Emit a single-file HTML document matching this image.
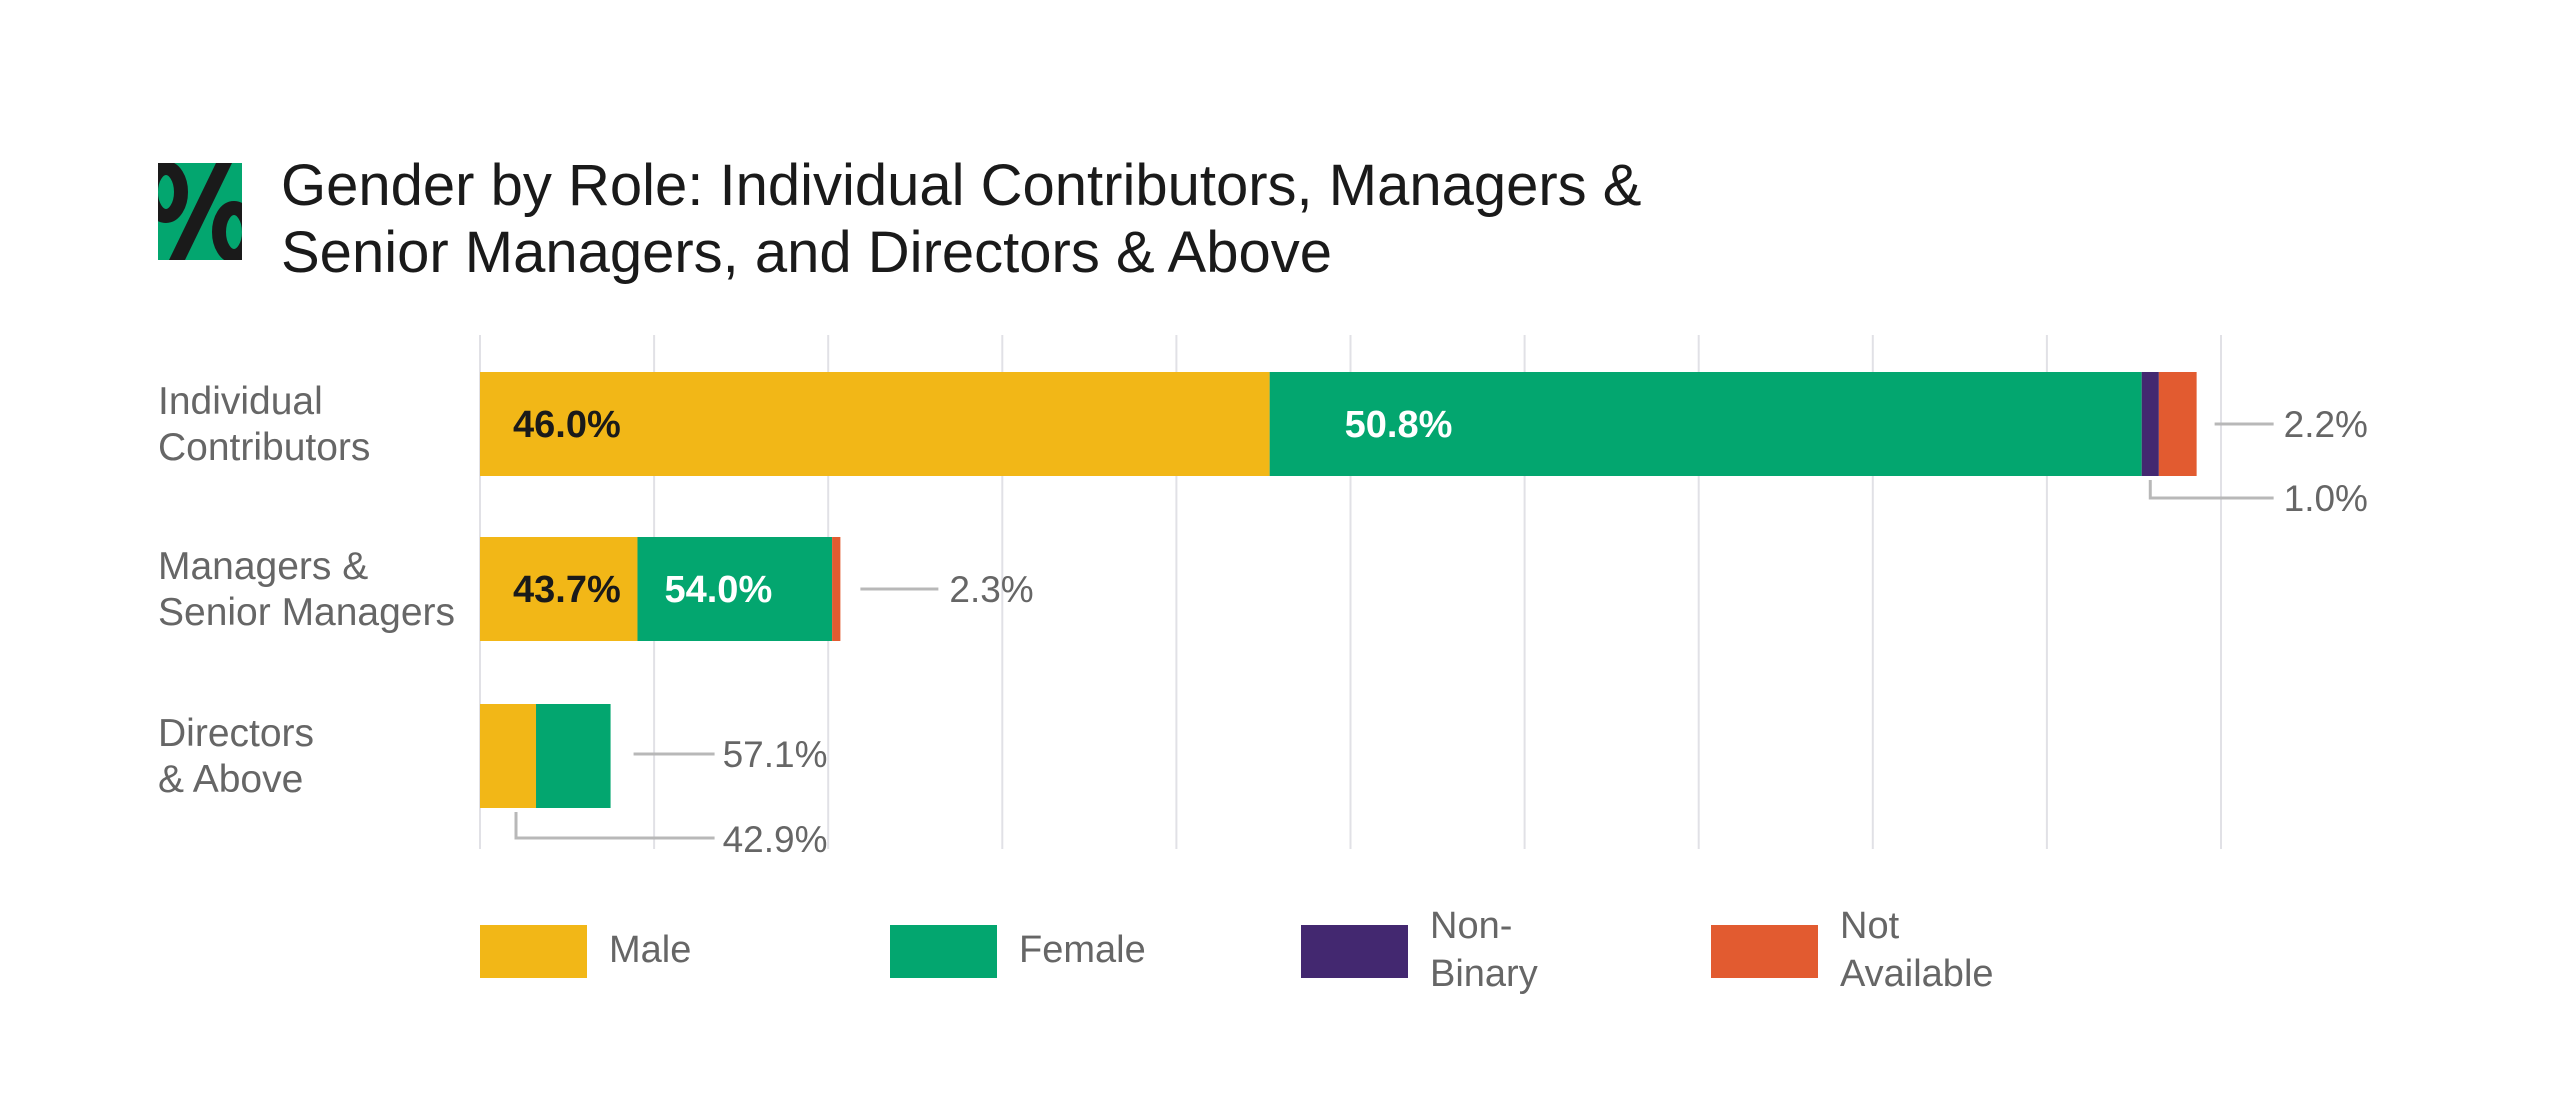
<!DOCTYPE html>
<html>
<head>
<meta charset="utf-8">
<style>
  html,body{margin:0;padding:0;background:#fff;}
  body{width:2560px;height:1102px;overflow:hidden;font-family:"Liberation Sans",sans-serif;}
  svg text{font-family:"Liberation Sans",sans-serif;}
</style>
</head>
<body>
<svg id="chart" width="2560" height="1102" viewBox="0 0 2560 1102" xmlns="http://www.w3.org/2000/svg">
  <rect x="0" y="0" width="2560" height="1102" fill="#ffffff"/>
  <defs>
    <clipPath id="iconClip"><rect x="158" y="163" width="84" height="97"/></clipPath>
  </defs>
  <g>
    <rect x="158" y="163" width="84" height="97" fill="#03A66F"/>
    <g clip-path="url(#iconClip)">
      <ellipse cx="166" cy="192" rx="15" ry="24" fill="none" stroke="#1a1a1a" stroke-width="14"/>
      <ellipse cx="234" cy="232" rx="15" ry="24" fill="none" stroke="#1a1a1a" stroke-width="14"/>
      <polygon points="216,163 232,163 185,260 169,260" fill="#1a1a1a"/>
    </g>
  </g>
  <text x="281" y="205" font-size="58" fill="#1a1a1a">Gender by Role: Individual Contributors, Managers &amp;</text>
  <text x="281" y="272" font-size="58" fill="#1a1a1a">Senior Managers, and Directors &amp; Above</text>
  <g id="grid"></g>
  <g id="bars"></g>
  <g id="annotations"></g>
  <g id="legend"></g>
</svg>
<script>
// Data
const categories = ["Individual Contributors", "Managers & Senior Managers", "Directors & Above"];
const categoryLabelLines = [["Individual", "Contributors"], ["Managers &", "Senior Managers"], ["Directors", "& Above"]];
const groupSize = [9.86, 2.07, 0.75]; // relative bar length in grid units
const male = [46.0, 43.7, 42.9];
const female = [50.8, 54.0, 57.1];
const nonBinary = [1.0, 0, 0];
const notAvailable = [2.2, 2.3, 0];
const gridTicks = [0,1,2,3,4,5,6,7,8,9,10];
const seriesNames = ["Male", "Female", "Non-Binary", "Not Available"];

const NS = "http://www.w3.org/2000/svg";
const colors = ["#F2B717", "#03A66F", "#432870", "#E25B30"];
const x0 = 480, unit = 174.1;
const xScale = v => x0 + v * unit;
const bandTop = [372, 537, 704], barH = 104;
const yScale = i => bandTop[i];

function mk(tag, attrs, parent, text){
  const el = document.createElementNS(NS, tag);
  for (const k in attrs) el.setAttribute(k, attrs[k]);
  if (text !== undefined) el.textContent = text;
  parent.appendChild(el);
  return el;
}
const grid = document.getElementById('grid');
gridTicks.forEach(t => {
  const l = mk('line', {x1:xScale(t), x2:xScale(t), y1:335, y2:849, stroke:'#e1e1e6', 'stroke-width':2}, grid);
  
  
});

const bars = document.getElementById('bars');
const ann = document.getElementById('annotations');
const series = [male, female, nonBinary, notAvailable];
const segKeys = ['male', 'female', 'non-binary', 'not-available'];
const fmt = v => v.toFixed(1) + '%';
const lineCol = '#b8b8b8', annCol = '#666';

categories.forEach((c, i) => {
  const y = yScale(i), cy = y + barH/2;
  categoryLabelLines[i].forEach((ln, j) => {
    const t = mk('text', {x:158, y:cy - 10 + j*46, 'font-size':39, fill:'#666'}, bars, ln);
    
    
  });
  const total = groupSize[i];
  let acc = 0;
  const segs = [];
  series.forEach((s, k) => {
    const w = s[i] / 100 * total;
    const xa = xScale(acc), xb = xScale(acc + w);
    segs.push([xa, xb]);
    if (s[i] > 0) {
      const r = mk('rect', {x:xa, y:y, width:xb - xa, height:barH, fill:colors[k]}, bars);
      
      
    }
    acc += w;
  });
  const end = xScale(acc);
  if (i < 2) {
    const t1 = mk('text', {x:segs[0][0] + 33, y:cy + 13, 'font-size':38, 'font-weight':'bold', fill:'#1a1a1a'}, bars, fmt(male[i]));
    
    
    const t2 = mk('text', {x:segs[1][0] + (i === 0 ? 75 : 27), y:cy + 13, 'font-size':38, 'font-weight':'bold', fill:'#ffffff'}, bars, fmt(female[i]));
    
    
  }
  if (i === 0) {
    mk('line', {x1:end + 18, x2:end + 77, y1:cy, y2:cy, stroke:lineCol, 'stroke-width':3}, ann);
    const a = mk('text', {x:end + 87, y:cy + 13, 'font-size':37, fill:annCol}, ann, fmt(notAvailable[i]));
    
    
    const nx = (segs[2][0] + segs[2][1]) / 2;
    mk('polyline', {points:`${nx},${y+barH+4} ${nx},${y+barH+22} ${end+77},${y+barH+22}`, fill:'none', stroke:lineCol, 'stroke-width':3}, ann);
    const b = mk('text', {x:end + 87, y:y + barH + 35, 'font-size':37, fill:annCol}, ann, fmt(nonBinary[i]));
    
    
  } else if (i === 1) {
    mk('line', {x1:end + 20, x2:end + 98, y1:cy, y2:cy, stroke:lineCol, 'stroke-width':3}, ann);
    const a = mk('text', {x:end + 109, y:cy + 13, 'font-size':37, fill:annCol}, ann, fmt(notAvailable[i]));
    
    
  } else {
    mk('line', {x1:end + 23, x2:end + 104, y1:cy - 2, y2:cy - 2, stroke:lineCol, 'stroke-width':3}, ann);
    const a = mk('text', {x:end + 112, y:cy + 11, 'font-size':37, fill:annCol}, ann, fmt(female[i]));
    
    
    const mx = (segs[0][0] + segs[0][1]) / 2 + 8;
    mk('polyline', {points:`${mx},${y+barH+4} ${mx},${y+barH+30} ${end+104},${y+barH+30}`, fill:'none', stroke:lineCol, 'stroke-width':3}, ann);
    const b = mk('text', {x:end + 112, y:y + barH + 44, 'font-size':37, fill:annCol}, ann, fmt(male[i]));
    
    
  }
});

const legend = document.getElementById('legend');
const legX = [480, 890, 1301, 1711];
const legLines = [["Male"], ["Female"], ["Non-", "Binary"], ["Not", "Available"]];
seriesNames.forEach((n, k) => {
  const g = mk('g', {}, legend);
  
  
  mk('rect', {x:legX[k], y:925, width:107, height:53, fill:colors[k]}, g);
  const lines = legLines[k];
  lines.forEach((ln, j) => {
    const yy = lines.length === 1 ? 962 : 938 + j * 48;
    mk('text', {x:legX[k] + 129, y:yy, 'font-size':38, fill:'#666'}, g, ln);
  });
});
</script>
</body>
</html>
